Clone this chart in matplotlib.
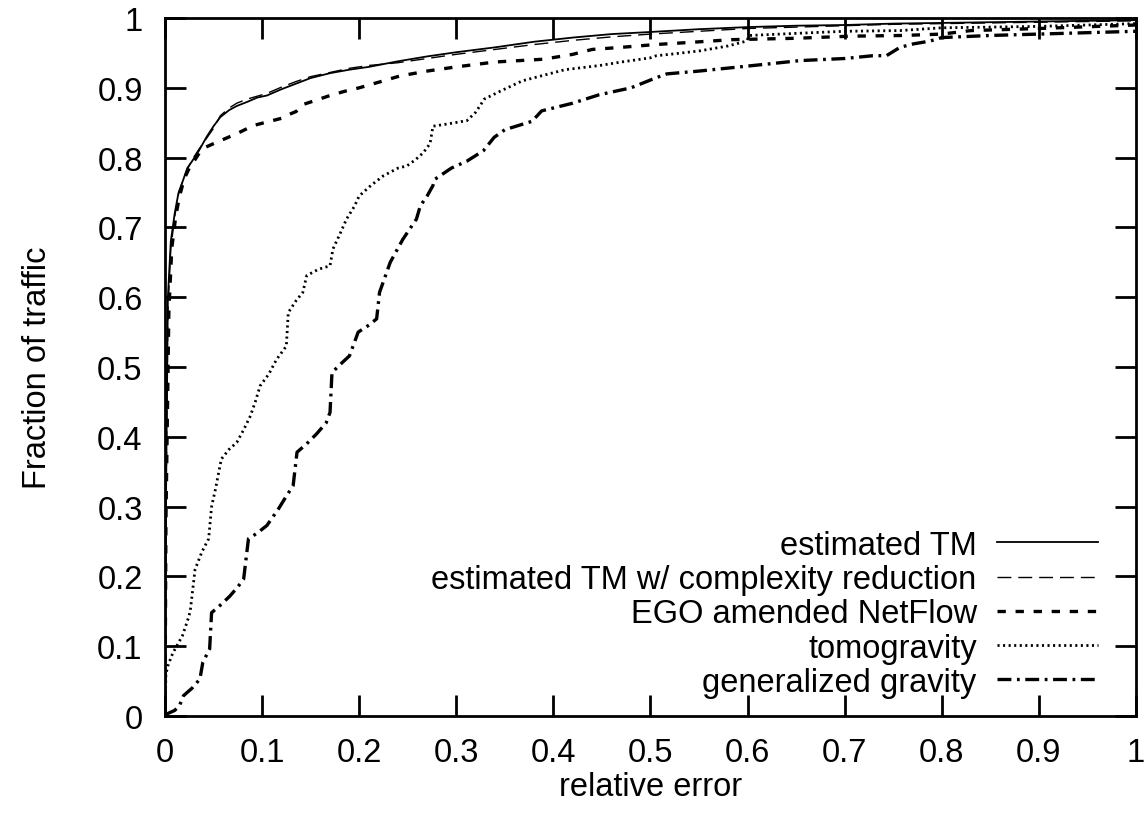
import numpy as np
import matplotlib.pyplot as plt

plt.rcParams['font.family'] = ['Liberation Sans', 'DejaVu Sans']
plt.rcParams['lines.scale_dashes'] = False

# estimated TM
x_est = [0, 0.001, 0.003, 0.006, 0.010, 0.014, 0.018, 0.023, 0.028, 0.035, 0.043, 0.050, 0.057,
         0.066, 0.074, 0.085, 0.095, 0.105, 0.120, 0.135, 0.150, 0.170, 0.190, 0.210, 0.240,
         0.270, 0.300, 0.340, 0.380, 0.420, 0.460, 0.500, 0.550, 0.600, 0.650, 0.700, 0.750,
         0.800, 0.850, 0.900, 0.950, 1.0]
y_est = [0, 0.30, 0.60, 0.68, 0.72, 0.75, 0.765, 0.785, 0.795, 0.81, 0.83, 0.845, 0.858,
         0.868, 0.874, 0.880, 0.886, 0.889, 0.898, 0.906, 0.914, 0.921, 0.926, 0.930, 0.938,
         0.945, 0.951, 0.958, 0.966, 0.972, 0.977, 0.980, 0.984, 0.987, 0.989, 0.990, 0.992,
         0.993, 0.994, 0.995, 0.996, 0.997]

# estimated TM w/ complexity reduction
x_cr = x_est
y_cr = [0, 0.28, 0.58, 0.67, 0.715, 0.748, 0.765, 0.783, 0.797, 0.812, 0.828, 0.842, 0.86,
        0.871, 0.878, 0.884, 0.888, 0.892, 0.901, 0.909, 0.916, 0.922, 0.928, 0.932, 0.936,
        0.942, 0.948, 0.955, 0.962, 0.968, 0.973, 0.977, 0.981, 0.985, 0.987, 0.989, 0.991,
        0.992, 0.993, 0.994, 0.995, 0.996]

# EGO amended NetFlow
x_ego = [0, 0.001, 0.004, 0.007, 0.011, 0.015, 0.020, 0.025, 0.030, 0.036, 0.042, 0.050, 0.060,
         0.075, 0.091, 0.105, 0.122, 0.128, 0.135, 0.142, 0.155, 0.170, 0.185, 0.200, 0.220,
         0.242, 0.270, 0.300, 0.340, 0.390, 0.420, 0.440, 0.470, 0.505, 0.540, 0.584, 0.650,
         0.706, 0.760, 0.800, 0.830, 0.900, 1.0]
y_ego = [0, 0.28, 0.58, 0.67, 0.715, 0.745, 0.77, 0.785, 0.795, 0.808, 0.815, 0.82, 0.826,
         0.835, 0.846, 0.851, 0.857, 0.862, 0.866, 0.876, 0.882, 0.889, 0.895, 0.900, 0.908,
         0.917, 0.924, 0.930, 0.937, 0.941, 0.948, 0.955, 0.958, 0.962, 0.965, 0.969, 0.971,
         0.974, 0.975, 0.977, 0.982, 0.985, 0.990]

# tomogravity
x_tomo = [0, 0.001, 0.003, 0.008, 0.012, 0.018, 0.024, 0.026, 0.031, 0.038, 0.045, 0.048, 0.052,
          0.058, 0.066, 0.074, 0.081, 0.088, 0.093, 0.098, 0.107, 0.115, 0.125, 0.127, 0.135,
          0.142, 0.146, 0.158, 0.170, 0.173, 0.180, 0.187, 0.195, 0.200, 0.212, 0.225, 0.240,
          0.249, 0.258, 0.266, 0.273, 0.276, 0.290, 0.311, 0.320, 0.329, 0.345, 0.368, 0.390,
          0.412, 0.448, 0.470, 0.500, 0.506, 0.520, 0.551, 0.580, 0.599, 0.602, 0.650, 0.700,
          0.757, 0.800, 0.850, 0.900, 0.950, 1.0]
y_tomo = [0, 0.06, 0.072, 0.09, 0.10, 0.115, 0.14, 0.15, 0.21, 0.235, 0.254, 0.30, 0.325,
          0.368, 0.382, 0.392, 0.41, 0.43, 0.45, 0.473, 0.49, 0.511, 0.53, 0.578, 0.595,
          0.607, 0.631, 0.640, 0.645, 0.669, 0.69, 0.712, 0.73, 0.745, 0.76, 0.774, 0.785,
          0.788, 0.797, 0.807, 0.82, 0.845, 0.848, 0.853, 0.865, 0.884, 0.895, 0.91, 0.918,
          0.926, 0.932, 0.937, 0.943, 0.946, 0.948, 0.953, 0.960, 0.967, 0.975, 0.978, 0.981,
          0.982, 0.986, 0.987, 0.988, 0.99, 0.992]

# generalized gravity
x_gg = [0, 0.002, 0.010, 0.015, 0.019, 0.028, 0.036, 0.039, 0.046, 0.048, 0.058, 0.067, 0.075,
        0.081, 0.086, 0.095, 0.105, 0.117, 0.125, 0.132, 0.136, 0.146, 0.156, 0.166, 0.170,
        0.172, 0.180, 0.190, 0.199, 0.210, 0.218, 0.221, 0.232, 0.245, 0.259, 0.263, 0.270,
        0.276, 0.278, 0.295, 0.311, 0.328, 0.339, 0.350, 0.378, 0.388, 0.420, 0.447, 0.480,
        0.505, 0.517, 0.550, 0.585, 0.620, 0.654, 0.700, 0.729, 0.743, 0.757, 0.771, 0.788,
        0.800, 0.850, 0.900, 0.950, 1.0]
y_gg = [0, 0.003, 0.008, 0.015, 0.029, 0.04, 0.053, 0.077, 0.096, 0.148, 0.16, 0.172, 0.185,
        0.196, 0.254, 0.262, 0.273, 0.297, 0.315, 0.33, 0.378, 0.39, 0.404, 0.42, 0.435,
        0.492, 0.503, 0.516, 0.55, 0.56, 0.569, 0.607, 0.65, 0.683, 0.712, 0.731, 0.745,
        0.76, 0.769, 0.785, 0.795, 0.81, 0.829, 0.84, 0.852, 0.867, 0.878, 0.89, 0.9,
        0.914, 0.92, 0.924, 0.929, 0.934, 0.939, 0.942, 0.946, 0.946, 0.958, 0.963, 0.967,
        0.972, 0.975, 0.977, 0.979, 0.981]

ticks = np.round(np.arange(0, 1.01, 0.1), 1)
tick_labels = ['0', '0.1', '0.2', '0.3', '0.4', '0.5', '0.6', '0.7', '0.8', '0.9', '1']

fs = 23.5

fig = plt.figure(figsize=(11.48, 8.2), dpi=100)
ax = fig.add_axes([0.1437, 0.1256, 0.8458, 0.8512])

ax.plot(x_est, y_est, color='black', lw=1.3, label='estimated TM')
ax.plot(x_cr, y_cr, color='black', lw=1.0, dashes=(10, 5), label='estimated TM w/ complexity reduction')
ax.plot(x_ego, y_ego, color='black', lw=2.4, dashes=(6, 7), label='EGO amended NetFlow')
ax.plot(x_tomo, y_tomo, color='black', lw=2.0, dashes=(1.5, 2.5), label='tomogravity')
ax.plot(x_gg, y_gg, color='black', lw=2.4, dashes=(10, 4, 2, 4), label='generalized gravity')

ax.set_xlim(0, 1)
ax.set_ylim(0, 1)
ax.set_xticks(ticks)
ax.set_xticklabels(tick_labels)
ax.set_yticks(ticks)
ax.set_yticklabels(tick_labels)
ax.tick_params(direction='in', length=15, width=2, top=True, right=True, labelsize=fs)
ax.tick_params(axis='x', pad=15)
ax.tick_params(axis='y', pad=16)
for s in ax.spines.values():
    s.set_linewidth(2)

ax.set_xlabel('relative error', fontsize=fs, labelpad=2)
ax.set_ylabel('Fraction of traffic', fontsize=fs, labelpad=32)

ax.legend(loc='lower right', bbox_to_anchor=(0.961, 0.026), frameon=False, markerfirst=False,
          fontsize=fs, handlelength=3.1, handletextpad=0.62, labelspacing=0.1, borderpad=0,
          borderaxespad=0)

fig.savefig('out.png', dpi=100)
